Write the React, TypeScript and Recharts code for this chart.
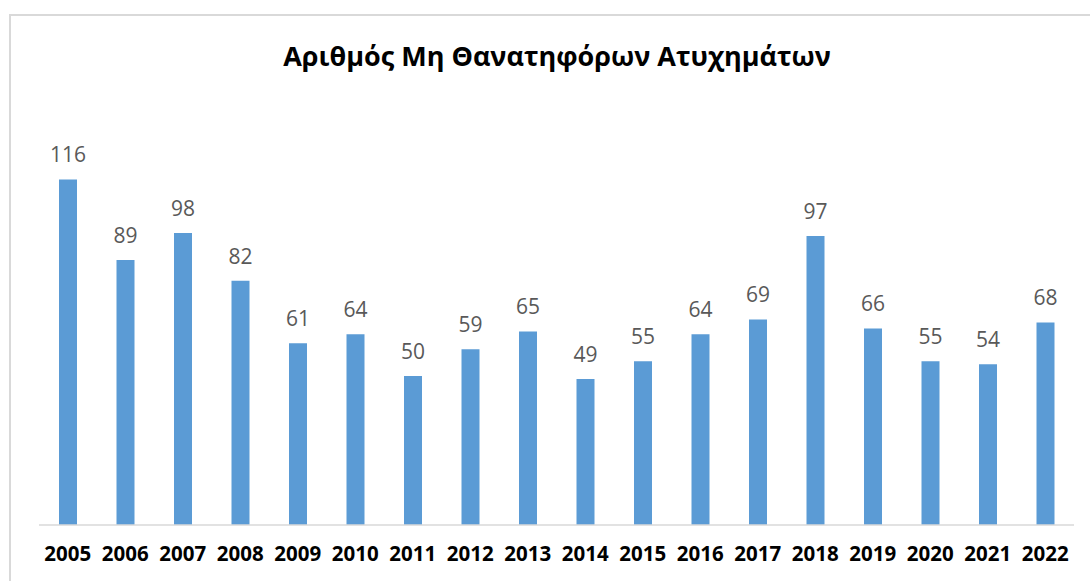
import { BarChart, Bar, XAxis, YAxis, LabelList } from "recharts";

const years = [
  "2005", "2006", "2007", "2008", "2009", "2010", "2011", "2012", "2013",
  "2014", "2015", "2016", "2017", "2018", "2019", "2020", "2021", "2022",
];
const accidents = [116, 89, 98, 82, 61, 64, 50, 59, 65, 49, 55, 64, 69, 97, 66, 55, 54, 68];

const data = years.map((year, i) => ({ year, value: accidents[i] }));

const FONT = "'Open Sans', 'Noto Sans', sans-serif";

function YearTick(props: any) {
  const { x, y, payload } = props;
  return (
    <text
      x={x}
      y={y + 28}
      textAnchor="middle"
      fontFamily={FONT}
      fontWeight={700}
      fontSize={20.5}
      fill="#000"
    >
      {payload.value}
    </text>
  );
}

export default function App() {
  return (
    <div
      style={{
        position: "absolute",
        left: 0,
        top: 0,
        width: 1090,
        height: 581,
        background: "#fff",
        overflow: "hidden",
      }}
    >
      <div
        style={{
          position: "absolute",
          left: 9,
          top: 14,
          width: 1200,
          height: 700,
          border: "2px solid #d9d9d9",
          boxSizing: "border-box",
        }}
      />
      <svg
        width={1090}
        height={100}
        style={{ position: "absolute", left: 0, top: 0 }}
      >
        <text
          x={557}
          y={66}
          textAnchor="middle"
          fontFamily={FONT}
          fontWeight={700}
          fontSize={27}
          fill="#000"
        >
          Αριθμός Μη Θανατηφόρων Ατυχημάτων
        </text>
      </svg>
      <div style={{ position: "absolute", left: 0, top: 0 }}>
        <BarChart
          width={1090}
          height={581}
          data={data}
          margin={{ top: 108, right: 16, left: 39, bottom: 26 }}
        >
          <XAxis
            dataKey="year"
            height={30}
            tickLine={false}
            axisLine={{ stroke: "#d9d9d9", strokeWidth: 1.5 }}
            tick={<YearTick />}
            interval={0}
          />
          <YAxis hide domain={[0, 140]} />
          <Bar dataKey="value" fill="#5b9bd5" barSize={18} isAnimationActive={false}>
            <LabelList
              dataKey="value"
              position="top"
              offset={17}
              fill="#595959"
              fontSize={21}
              fontFamily={FONT}
            />
          </Bar>
        </BarChart>
      </div>
    </div>
  );
}
